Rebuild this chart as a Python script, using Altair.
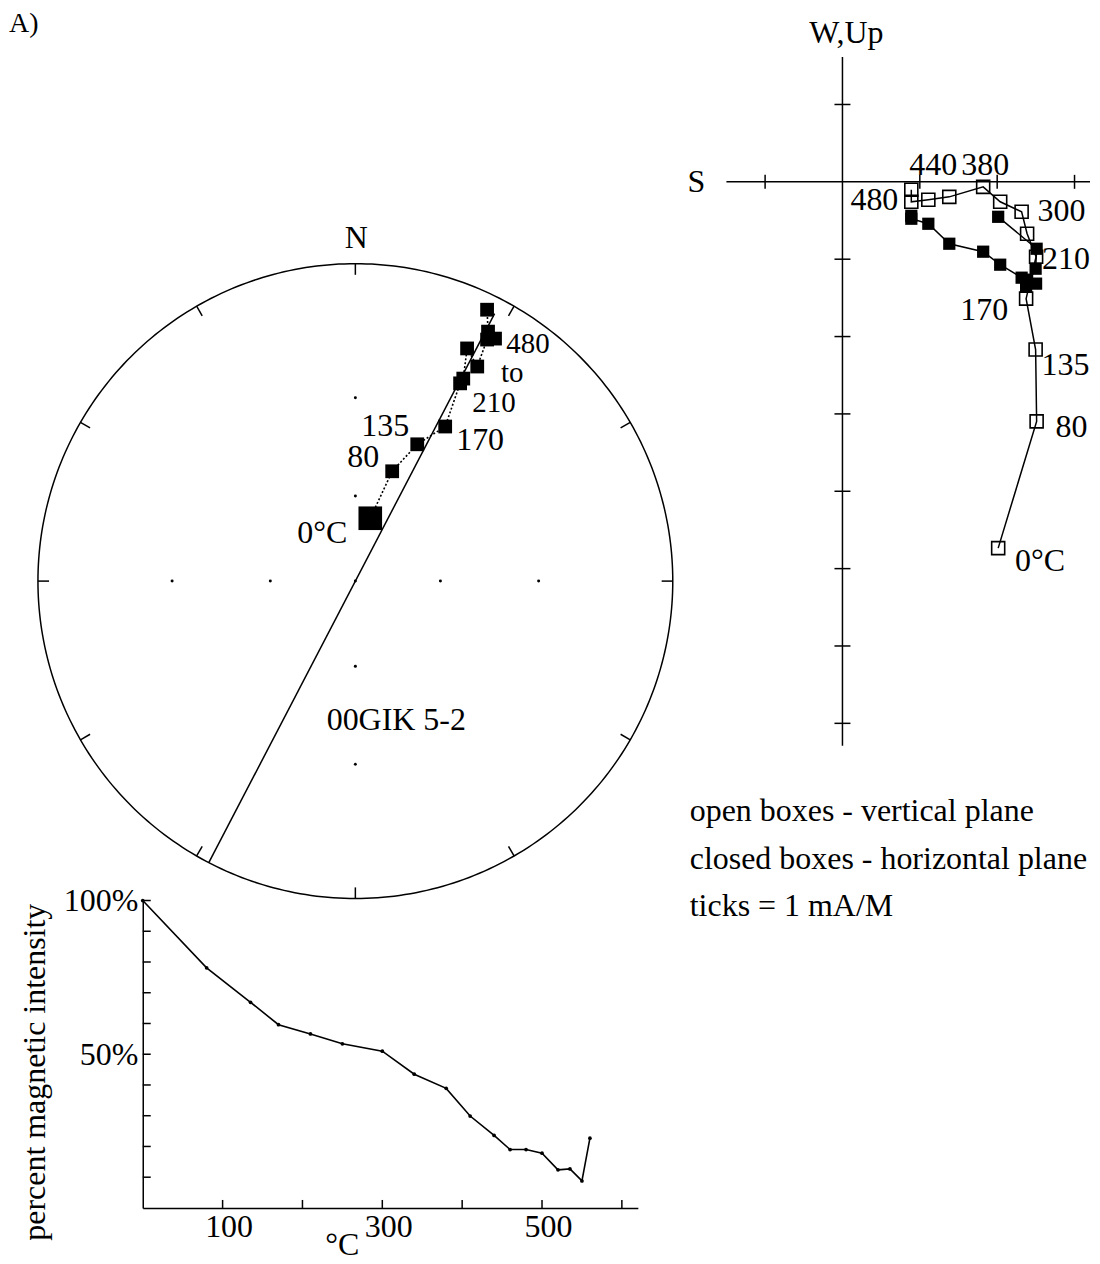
import altair as alt
import numpy as np
import pandas as pd

FONT = "Liberation Serif"
INK = "black"

# ------------------------------------------------------------------ data
# Stereonet (equal-angle, lower hemisphere): east / north in net radii
stereo_temp = [0, 80, 135, 170, 210, 250, 300, 340, 380, 410, 440, 480]
stereo_east = [0.047, 0.116, 0.195, 0.283, 0.330, 0.340, 0.352, 0.384, 0.415, 0.440, 0.418, 0.415]
stereo_north = [0.198, 0.346, 0.431, 0.487, 0.623, 0.638, 0.733, 0.676, 0.761, 0.764, 0.786, 0.855]
stereo_label_text = ["0°C", "80", "135", "170", "210", "to", "480"]
stereo_label_anchor = [0, 80, 135, 170, 210, 340, 410]
sample_name = "00GIK 5-2"
panel_tag = "A)"
north_label = "N"

plane_azimuth = [207.5, 27.5]        # trace of the plane (deg)
plane_radius = [1.0, 0.95]
net_tick_azimuth = [0, 30, 60, 90, 120, 150, 180, 210, 240, 270, 300, 330]
net_dot_inclination = [60, 30]

# Zijderveld diagram (mA/m)
zij_temp = [0, 80, 135, 170, 210, 250, 300, 340, 380, 410, 440, 460, 480]
zij_north = [2.013, 2.510, 2.497, 2.374, 2.503, 2.387, 2.316, 2.039, 1.819, 1.381, 1.110, 0.890, 0.890]
zij_east = [0.452, 0.865, 1.123, 1.355, 1.316, 1.265, 1.239, 1.071, 0.903, 0.800, 0.542, 0.477, 0.439]
zij_down = [4.735, 3.097, 2.168, 1.510, 0.968, 0.671, 0.387, 0.258, 0.065, 0.194, 0.232, 0.258, 0.103]
zij_label_text = ["0°C", "80", "135", "170", "210", "300", "380", "440", "480"]
zij_label_anchor = [0, 80, 135, 170, 210, 300, 380, 440, 480]
zij_tick_north = [-1, 1, 2, 3]
zij_tick_up = [1, -1, -2, -3, -4, -5, -6, -7]
zij_axis_north = [-1.5, 3.2]
zij_axis_up = [1.613, -7.29]
zij_axis_names = ["S", "W,Up"]
legend_lines = ["open boxes - vertical plane",
                "closed boxes - horizontal plane",
                "ticks = 1 mA/M"]

# Intensity decay
int_temp = [0, 80, 135, 170, 210, 250, 300, 340, 380, 410, 440, 460, 480, 500, 520, 535, 550, 560]
int_pct = [100, 78.1, 66.9, 59.6, 56.6, 53.4, 51.0, 43.5, 38.9, 29.9, 23.6, 19.0, 19.0, 17.8, 12.4, 12.7, 8.8, 22.7]
int_temp_labels = [100, 300, 500]
int_pct_labels = [50, 100]
int_temp_ticks = [100, 200, 300, 400, 500, 600]
int_pct_ticks = [10, 20, 30, 40, 50, 60, 70, 80, 90, 100]
int_x_title = "°C"
int_y_title = "percent magnetic intensity"

# ------------------------------------------------------------------ layout / style
FS = 32
STEREO_W, STEREO_H = 530, 890
STEREO_XD = [-213 / 318, 317 / 318]
STEREO_YD = [-1.0, 572 / 318]
TICK_INNER = 0.965
# (dx, dy, font size)
STEREO_LABEL_STYLE = {"0°C": (-48, 15, 32), "80": (-29, -14, 32), "135": (-32, -18, 32),
                      "170": (35, 14, 32), "210": (34, 20, 29), "to": (35, 7, 29),
                      "480": (33, 5, 29)}

ZIJ_W, ZIJ_H = 417, 737
ZIJ_XD = [-169 / 77.5, 248 / 77.5]
ZIJ_YD = [-565 / 77.5, 172 / 77.5]
ZIJ_LABEL_OFFSET = {"0°C": (42, 13), "80": (35, 6), "135": (30, 15), "170": (-42, 11),
                    "210": (30, 2), "300": (40, -1), "380": (2, -22), "440": (5, -35),
                    "480": (-37, 10)}

INT_W, INT_H = 496, 308
INT_XD = [0, 620]
INT_YD = [0, 100]


def txt(**kw):
    base = dict(font=FONT, fontSize=FS, color=INK, align="center", baseline="middle")
    base.update(kw)
    return base


# ------------------------------------------------------------------ stereonet
sx = alt.X("x:Q", scale=alt.Scale(domain=STEREO_XD, nice=False, zero=False), axis=None)
sy = alt.Y("y:Q", scale=alt.Scale(domain=STEREO_YD, nice=False, zero=False), axis=None)

ang = np.linspace(0, 2 * np.pi, 361)
circle_df = pd.DataFrame({"x": np.sin(ang), "y": np.cos(ang), "i": np.arange(361)})
circle = alt.Chart(circle_df).mark_line(color=INK, strokeWidth=1.5).encode(
    x=sx, y=sy, order="i:Q")

taz = np.radians(net_tick_azimuth)
ticks_df = pd.DataFrame({"x": np.sin(taz), "y": np.cos(taz),
                         "x2": TICK_INNER * np.sin(taz), "y2": TICK_INNER * np.cos(taz)})
net_ticks = alt.Chart(ticks_df).mark_rule(color=INK, strokeWidth=1.5).encode(
    x=sx, y=sy, x2="x2:Q", y2="y2:Q")

rr = [np.tan(np.radians((90 - inc) / 2)) for inc in net_dot_inclination]
dx_, dy_ = [0.0], [0.0]
for r in rr:
    dx_ += [r, -r, 0, 0]
    dy_ += [0, 0, r, -r]
dots = alt.Chart(pd.DataFrame({"x": dx_, "y": dy_})).mark_circle(
    color=INK, size=9, opacity=1).encode(x=sx, y=sy)

paz = np.radians(plane_azimuth)
plane_df = pd.DataFrame({"x": np.array(plane_radius) * np.sin(paz),
                         "y": np.array(plane_radius) * np.cos(paz), "i": [0, 1]})
plane = alt.Chart(plane_df).mark_line(color=INK, strokeWidth=1.5).encode(
    x=sx, y=sy, order="i:Q")

st_df = pd.DataFrame({"x": stereo_east, "y": stereo_north, "t": stereo_temp,
                      "i": range(len(stereo_temp))})
path = alt.Chart(st_df).mark_line(color=INK, strokeWidth=1.6, strokeDash=[2, 2]).encode(
    x=sx, y=sy, order="i:Q")
first_pt = alt.Chart(st_df.iloc[:1]).mark_square(color=INK, size=560, opacity=1).encode(x=sx, y=sy)
other_pts = alt.Chart(st_df.iloc[1:]).mark_square(color=INK, size=190, opacity=1).encode(x=sx, y=sy)

st_layers = [circle, net_ticks, dots, plane, path, first_pt, other_pts]
for text, anchor in zip(stereo_label_text, stereo_label_anchor):
    row = st_df[st_df.t == anchor]
    ddx, ddy, fs = STEREO_LABEL_STYLE[text]
    d = pd.DataFrame({"x": row.x.values, "y": row.y.values, "s": [text]})
    st_layers.append(alt.Chart(d).mark_text(**txt(dx=ddx, dy=ddy, fontSize=fs))
                     .encode(x=sx, y=sy, text="s:N"))

st_layers.append(alt.Chart(pd.DataFrame({"x": [0.0], "y": [1.0], "s": [north_label]}))
                 .mark_text(**txt(dx=1, dy=-26)).encode(x=sx, y=sy, text="s:N"))
st_layers.append(alt.Chart(pd.DataFrame({"s": [sample_name]}))
                 .mark_text(**txt()).encode(x=alt.value(254), y=alt.value(711), text="s:N"))
st_layers.append(alt.Chart(pd.DataFrame({"s": [panel_tag]}))
                 .mark_text(**txt(align="left", fontSize=28)).encode(
                     x=alt.value(-134), y=alt.value(14), text="s:N"))

stereo = alt.layer(*st_layers).properties(width=STEREO_W, height=STEREO_H)

# ------------------------------------------------------------------ Zijderveld
zx = alt.X("n:Q", scale=alt.Scale(domain=ZIJ_XD, nice=False, zero=False), axis=None)
zy = alt.Y("v:Q", scale=alt.Scale(domain=ZIJ_YD, nice=False, zero=False), axis=None)

haxis = alt.Chart(pd.DataFrame({"n": [zij_axis_north[0]], "n2": [zij_axis_north[1]], "v": [0.0]})
                  ).mark_rule(color=INK, strokeWidth=1.5).encode(x=zx, x2="n2:Q", y=zy)
vaxis = alt.Chart(pd.DataFrame({"n": [0.0], "v": [zij_axis_up[0]], "v2": [zij_axis_up[1]]})
                  ).mark_rule(color=INK, strokeWidth=1.5).encode(x=zx, y=zy, y2="v2:Q")
hticks = alt.Chart(pd.DataFrame({"n": zij_tick_north, "v": 0.0})).mark_tick(
    orient="vertical", size=14, thickness=1.5, color=INK, opacity=1).encode(x=zx, y=zy)
vticks = alt.Chart(pd.DataFrame({"n": 0.0, "v": zij_tick_up})).mark_tick(
    orient="horizontal", size=16, thickness=1.5, color=INK, opacity=1).encode(x=zx, y=zy)

open_df = pd.DataFrame({"n": zij_north, "v": [-d for d in zij_down], "t": zij_temp,
                        "i": range(len(zij_temp))})
closed_df = pd.DataFrame({"n": zij_north, "v": [-e for e in zij_east], "t": zij_temp,
                          "i": range(len(zij_temp))})
open_line = alt.Chart(open_df).mark_line(color=INK, strokeWidth=1.5).encode(x=zx, y=zy, order="i:Q")
closed_line = alt.Chart(closed_df).mark_line(color=INK, strokeWidth=1.5).encode(x=zx, y=zy, order="i:Q")
open_pts = alt.Chart(open_df).mark_square(filled=False, color=INK, size=170, strokeWidth=1.6,
                                          opacity=1).encode(x=zx, y=zy)
closed_pts = alt.Chart(closed_df).mark_square(filled=True, color=INK, size=150,
                                              opacity=1).encode(x=zx, y=zy)

zij_layers = [haxis, vaxis, hticks, vticks, open_line, closed_line, closed_pts, open_pts]
for text, anchor in zip(zij_label_text, zij_label_anchor):
    row = open_df[open_df.t == anchor]
    ddx, ddy = ZIJ_LABEL_OFFSET[text]
    d = pd.DataFrame({"n": row.n.values, "v": row.v.values, "s": [text]})
    zij_layers.append(alt.Chart(d).mark_text(**txt(dx=ddx, dy=ddy)).encode(x=zx, y=zy, text="s:N"))

zij_layers.append(alt.Chart(pd.DataFrame({"n": [zij_axis_north[0]], "v": [0.0], "s": [zij_axis_names[0]]}))
                  .mark_text(**txt(dx=-30, dy=0)).encode(x=zx, y=zy, text="s:N"))
zij_layers.append(alt.Chart(pd.DataFrame({"n": [0.0], "v": [zij_axis_up[0]], "s": [zij_axis_names[1]]}))
                  .mark_text(**txt(dx=4, dy=-24)).encode(x=zx, y=zy, text="s:N"))
for k, line in enumerate(legend_lines):
    zij_layers.append(alt.Chart(pd.DataFrame({"s": [line]}))
                      .mark_text(**txt(align="left")).encode(
                          x=alt.value(16), y=alt.value(802 + 48 * k), text="s:N"))

zij = alt.layer(*zij_layers).properties(width=ZIJ_W, height=ZIJ_H)

# ------------------------------------------------------------------ intensity
x_axis = alt.Axis(values=int_temp_labels, title=None, ticks=False, grid=False,
                  domainColor=INK, domainWidth=1.5, labelFont=FONT, labelFontSize=FS,
                  labelColor=INK, labelPadding=4, labelOffset=6)
y_axis = alt.Axis(values=int_pct_labels, labelExpr="datum.value + '%'", title=None,
                  ticks=False, grid=False, domainColor=INK, domainWidth=1.5,
                  labelFont=FONT, labelFontSize=FS, labelColor=INK, labelPadding=5)
ix = alt.X("t:Q", scale=alt.Scale(domain=INT_XD, nice=False, zero=False), axis=x_axis)
iy = alt.Y("p:Q", scale=alt.Scale(domain=INT_YD, nice=False, zero=False), axis=y_axis)

int_df = pd.DataFrame({"t": int_temp, "p": int_pct, "i": range(len(int_temp))})
int_line = alt.Chart(int_df).mark_line(color=INK, strokeWidth=1.6).encode(x=ix, y=iy, order="i:Q")
int_pts = alt.Chart(int_df).mark_circle(color=INK, size=14, opacity=1).encode(x=ix, y=iy)
int_yt = alt.Chart(pd.DataFrame({"p": int_pct_ticks})).mark_tick(
    orient="horizontal", size=8, thickness=1.5, color=INK, opacity=1, xOffset=4).encode(
    y=iy, x=alt.value(0))
int_xt = alt.Chart(pd.DataFrame({"t": int_temp_ticks})).mark_tick(
    orient="vertical", size=8, thickness=1.5, color=INK, opacity=1, yOffset=-4).encode(
    x=ix, y=alt.value(INT_H))
int_xtitle = alt.Chart(pd.DataFrame({"s": [int_x_title]})).mark_text(
    **txt(baseline="alphabetic")).encode(x=alt.value(200), y=alt.value(355), text="s:N")
int_ytitle = alt.Chart(pd.DataFrame({"s": [int_y_title]})).mark_text(
    **txt(angle=270)).encode(x=alt.value(-108), y=alt.value(172), text="s:N")

intensity = alt.layer(int_line, int_pts, int_yt, int_xt, int_xtitle, int_ytitle).properties(
    width=INT_W, height=INT_H)

# ------------------------------------------------------------------ compose
chart = alt.concat(stereo, zij, intensity, columns=2, spacing=2, bounds="flush").properties(
    padding=0).configure_view(stroke="transparent")

chart.save("out.html", embed_options={"renderer": "svg", "actions": False})
